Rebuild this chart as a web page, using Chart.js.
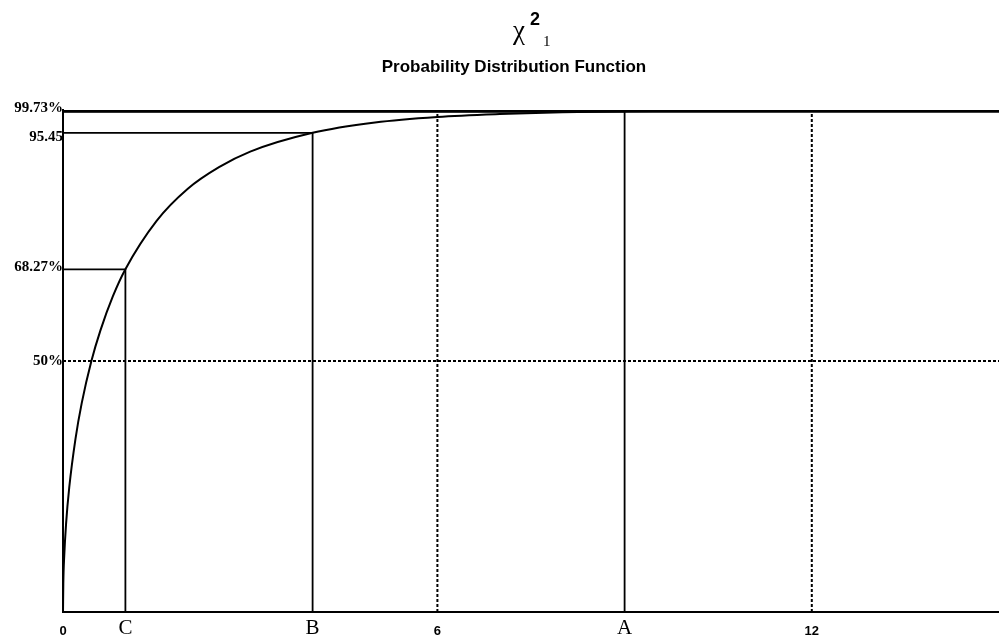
<!DOCTYPE html>
<html>
<head>
<meta charset="utf-8">
<script src="https://cdn.jsdelivr.net/npm/chart.js@4.4.1/dist/chart.umd.min.js"></script>
<style>
  html, body { margin: 0; padding: 0; background: #fff; }
  #wrap { position: relative; width: 999px; height: 638px; overflow: hidden; }
  #chart { position: absolute; left: 0; top: 0; }
  .t { position: absolute; color: #000; white-space: nowrap; line-height: 1; }
  #chi { left: 513px; top: 15px; font: 27px "Liberation Serif", serif; }
  #sup { left: 530px; top: 9px; font: bold 18px "Liberation Sans", Arial, sans-serif; }
  #sub { left: 543px; top: 33px; font: 15px "Liberation Serif", serif; }
  #subtitle { left: 514px; top: 57px; transform: translateX(-50%); font: bold 17px "Liberation Sans", Arial, sans-serif; }
</style>
</head>
<body>
<div id="wrap">
  <canvas id="chart" width="999" height="638"></canvas>
  <span class="t" id="chi">χ</span>
  <span class="t" id="sup">2</span>
  <span class="t" id="sub">1</span>
  <span class="t" id="subtitle">Probability Distribution Function</span>
</div>
<script>
// chi-square (1 dof) cumulative curve (% vs x)
const chiX = [0, 0.005, 0.02, 0.05, 0.1, 0.2, 0.3, 0.455, 0.6, 0.8, 1, 1.5, 2, 2.5, 3, 4, 5, 6, 7, 8, 9, 10, 12, 15];
const chiP = [0, 5.6, 11.2, 17.7, 24.8, 34.5, 41.6, 50.0, 56.1, 62.9, 68.27, 77.9, 84.3, 88.6, 91.7, 95.45, 97.5, 98.6, 99.18, 99.53, 99.73, 99.84, 99.95, 99.99];

// marked points C, B, A
const markNames = ['C', 'B', 'A'];
const markX = [1, 4, 9];
const markP = [68.27, 95.45, 99.73];

const topLevel = 99.73;
const halfLevel = 50;
const dottedX = [6, 12];
const xMax = 15;

// axis ticks
const xTickValues = [0, 1, 4, 6, 9, 12];
const xTickLabels = ['0', 'C', 'B', '6', 'A', '12'];
const yTickValues = [50, 68.27, 95.45, 99.73];
const yTickLabels = ['50%', '68.27%', '95.45', '99.73%'];

const solid = (data, width) => ({
    data, showLine: true, borderColor: '#000', borderWidth: width,
    pointRadius: 0, fill: false
});
const dotted = (data) => ({ ...solid(data, 2), borderDash: [3, 2] });

const datasets = [];
datasets.push({ ...solid(chiX.map((x, i) => ({ x, y: chiP[i] })), 2), cubicInterpolationMode: 'monotone' });
markX.forEach((x, i) => {
    datasets.push(solid([{ x: 0, y: markP[i] }, { x, y: markP[i] }, { x, y: 0 }], 1.8));
});
datasets.push(solid([{ x: 0, y: topLevel }, { x: xMax, y: topLevel }], 3));
dottedX.forEach(x => datasets.push(dotted([{ x, y: 0 }, { x, y: topLevel }])));
datasets.push(dotted([{ x: 0, y: halfLevel }, { x: xMax, y: halfLevel }]));

const ctx = document.getElementById('chart').getContext('2d');
const chart = new Chart(ctx, {
    type: 'scatter',
    data: { datasets },
    options: {
        responsive: false,
        animation: false,
        layout: { padding: { top: 110, right: 0, bottom: 0, left: 0 } },
        plugins: { legend: { display: false }, tooltip: { enabled: false } },
        scales: {
            x: {
                type: 'linear', min: 0, max: xMax,
                grid: { display: false, drawTicks: false },
                border: { display: true, color: '#000', width: 2 },
                afterBuildTicks: s => { s.ticks = xTickValues.map(v => ({ value: v })); },
                afterFit: s => { s.height = 26; },
                ticks: {
                    padding: 5,
                    color: '#000',
                    maxRotation: 0,
                    autoSkip: false,
                    callback: (v, i) => xTickLabels[i],
                    font: c => markNames.includes(xTickLabels[xTickValues.indexOf(c.tick && c.tick.value)])
                        ? { family: '"Liberation Serif", serif', size: 21, lineHeight: '22px' }
                        : { family: '"Liberation Sans", Arial, sans-serif', size: 13, weight: 'bold', lineHeight: '28px' }
                }
            },
            y: {
                type: 'linear', min: 0, max: 100,
                grid: { display: false, drawTicks: false },
                border: { display: true, color: '#000', width: 2 },
                afterBuildTicks: s => { s.ticks = yTickValues.map(v => ({ value: v })); },
                afterFit: s => { s.width = 63; },
                ticks: {
                    padding: 0,
                    color: '#000',
                    autoSkip: false,
                    // small vertical nudges via empty lines, as in the original
                    callback: (v, i) => {
                        const l = yTickLabels[i];
                        if (l === '95.45') return ['', l];
                        if (l === '99.73%' || l === '68.27%') return [l, ''];
                        return l;
                    },
                    font: c => {
                        const v = c.tick && c.tick.value;
                        let lh = '15px';
                        if (v === 95.45) lh = '8px';
                        else if (v === 99.73) lh = '7px';
                        else if (v === 68.27) lh = '5px';
                        return { family: '"Liberation Serif", serif', size: 15, weight: 'bold', lineHeight: lh };
                    }
                }
            }
        }
    }
});
</script>
</body>
</html>
